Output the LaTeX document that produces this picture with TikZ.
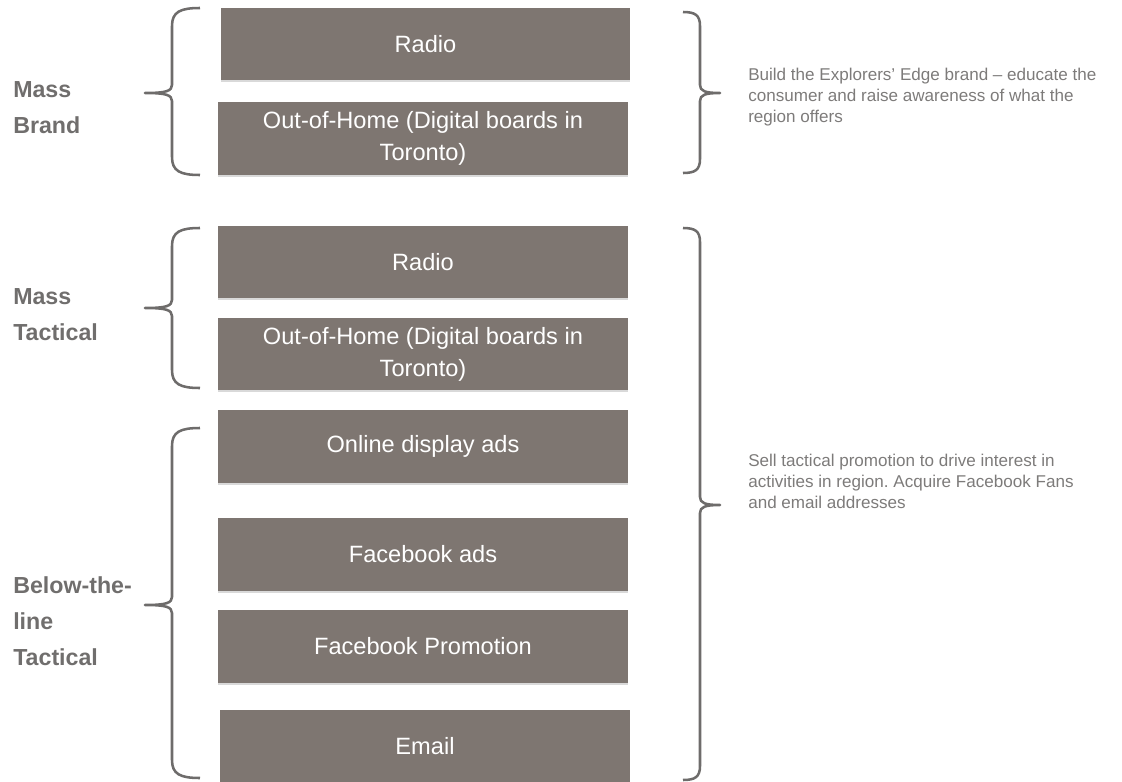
\documentclass[tikz,border=0pt]{standalone}
\usepackage{fontspec}
\setmainfont{Liberation Sans}
\usepackage{xcolor}
\usepackage{tikz}
\usetikzlibrary{shadows}
\frenchspacing

\definecolor{boxgray}{RGB}{126,118,113}
\definecolor{labelgray}{RGB}{112,110,109}
\definecolor{notegray}{RGB}{125,123,122}
\definecolor{bracegray}{RGB}{110,108,107}

\begin{document}
\begin{tikzpicture}[x=0.75pt,y=0.75pt]
            \tikzstyle{every node}+=[inner sep=0pt]
            \tikzstyle{channel}=[fill=boxgray, text=white, align=center,
                minimum width=307pt, minimum height=54.5pt,
                font=\fontsize{17.7}{24}\selectfont,
                drop shadow={shadow xshift=0pt, shadow yshift=-1.5pt, opacity=0.3}]
            \tikzstyle{group}=[anchor=west, align=left, text=labelgray,
                font=\bfseries\fontsize{17.4}{27}\selectfont]
            \tikzstyle{note}=[anchor=west, align=left, text=notegray,
                font=\fontsize{12.8}{15.8}\selectfont]
            \tikzstyle{brace}=[draw=bracegray, line width=1.9pt, line join=round]
            \useasboundingbox (0,0) rectangle (1122,-782);
            % media boxes
            \node [channel] (radioA) at (425.5,-44) {Radio};
            \node [channel] (oohA) at (423,-138.5) {Out-of-Home (Digital boards in\\Toronto)};
            \node [channel] (radioB) at (423,-262) {Radio};
            \node [channel] (oohB) at (423,-354) {Out-of-Home (Digital boards in\\Toronto)};
            \node [channel] (display) at (423,-446.5) {Online display ads};
            \node [channel] (fbads) at (423,-554.5) {Facebook ads};
            \node [channel] (fbpromo) at (423,-646.5) {Facebook Promotion};
            \node [channel] (email) at (425,-746) {Email};
            % group labels
            \node [group] (massbrand) at (13,-108) {Mass\\Brand};
            \node [group] (masstact) at (13,-315) {Mass\\Tactical};
            \node [group] (btl) at (13,-621) {Below-the-\\line\\Tactical};
            % left braces
            \draw [brace] (200,-8) .. controls (180,-8) and (172,-12) .. (172,-26) -- (172,-85)
                .. controls (172,-91) and (166,-93) .. (145,-93)
                .. controls (166,-93) and (172,-95) .. (172,-101) -- (172,-157)
                .. controls (172,-171) and (180,-175) .. (200,-175);
            \draw [brace] (200,-228) .. controls (180,-228) and (172,-232) .. (172,-246) -- (172,-300)
                .. controls (172,-306) and (166,-308) .. (145,-308)
                .. controls (166,-308) and (172,-310) .. (172,-316) -- (172,-370)
                .. controls (172,-384) and (180,-388) .. (200,-388);
            \draw [brace] (200,-428) .. controls (180,-428) and (172,-432) .. (172,-446) -- (172,-597)
                .. controls (172,-603) and (166,-605) .. (145,-605)
                .. controls (166,-605) and (172,-607) .. (172,-613) -- (172,-760)
                .. controls (172,-774) and (180,-778) .. (200,-778);
            % right braces
            \draw [brace] (683,-12) .. controls (695,-12) and (700,-15) .. (700,-26) -- (700,-85)
                .. controls (700,-91) and (705,-93) .. (720,-93)
                .. controls (705,-93) and (700,-95) .. (700,-101) -- (700,-159)
                .. controls (700,-170) and (695,-173) .. (683,-173);
            \draw [brace] (683,-228) .. controls (695,-228) and (700,-231) .. (700,-242) -- (700,-497)
                .. controls (700,-503) and (705,-505) .. (720,-505)
                .. controls (705,-505) and (700,-507) .. (700,-513) -- (700,-766)
                .. controls (700,-777) and (695,-780) .. (683,-780);
            % notes
            \node [note] (brandnote) at (748,-97) {Build the Explorers' Edge brand -- educate the\\consumer and raise awareness of what the\\region offers};
            \node [note] (tacticnote) at (748,-481) {Sell tactical promotion to drive interest in\\activities in region. Acquire Facebook Fans\\and email addresses};
        \end{tikzpicture}
\end{document}
